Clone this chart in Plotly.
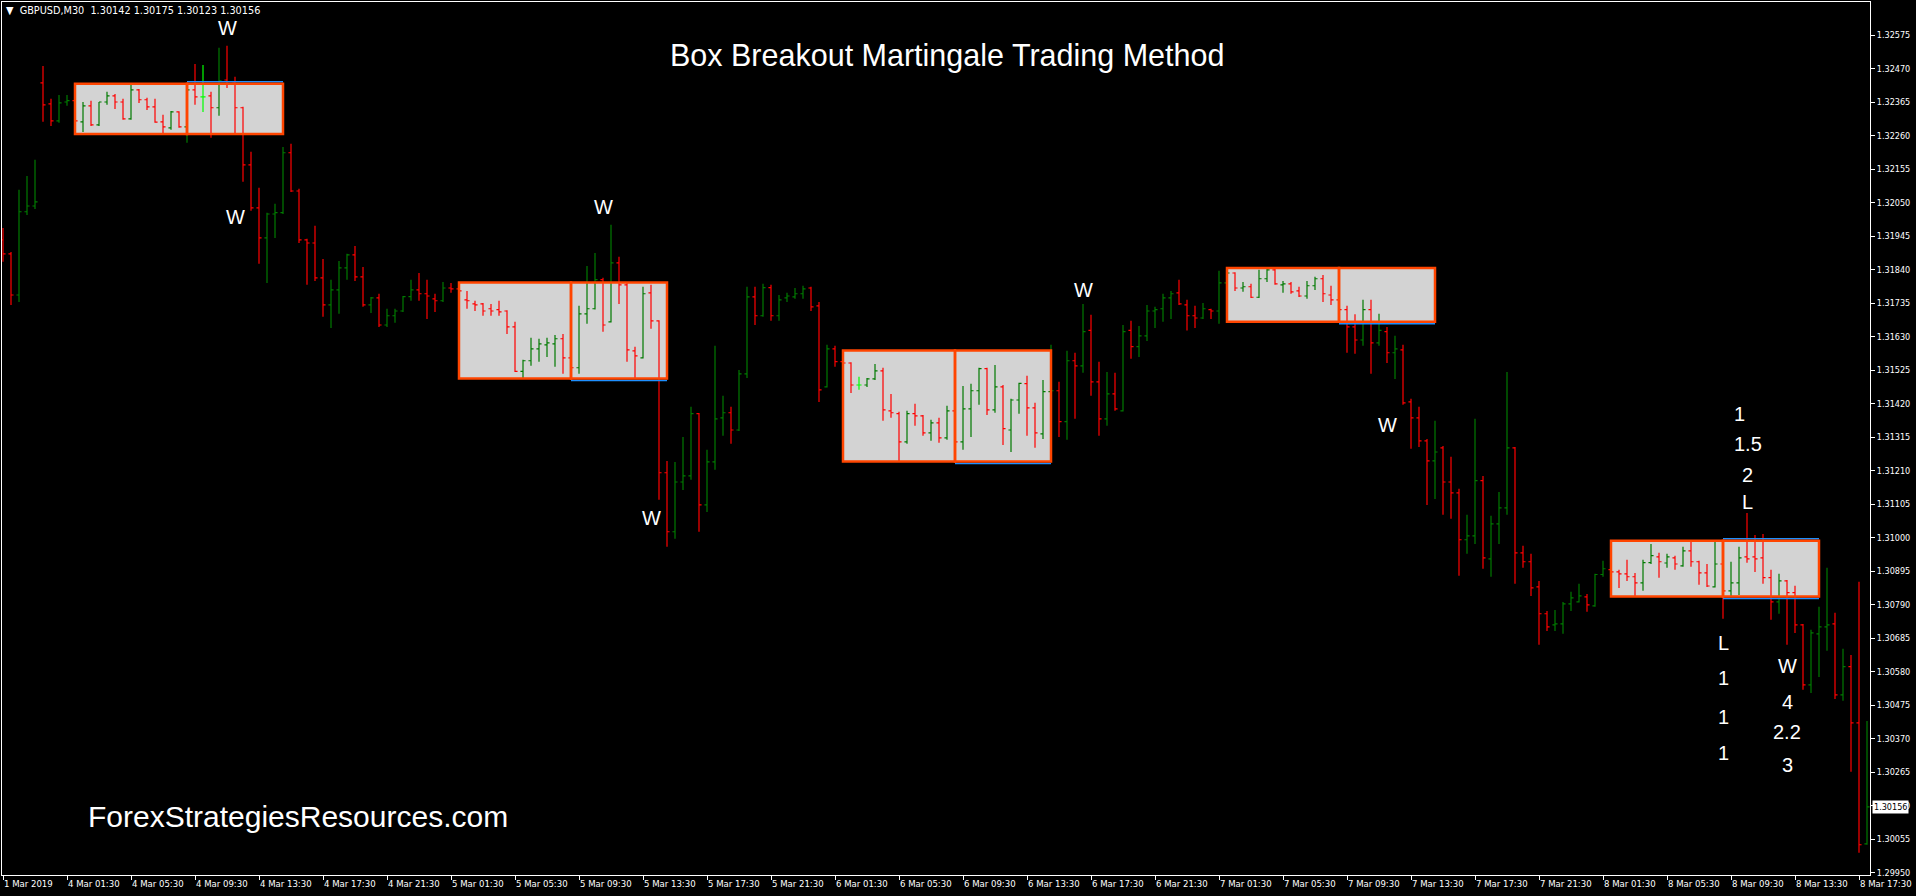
import plotly.graph_objects as go

# ---------------- data (GBPUSD M30) ----------------
bar_index = list(range(234))

opens = [1.31933,1.31889,1.31760,1.32021,1.32039,1.32425,1.32359,1.32306,1.32365,1.32369,
1.32303,1.32353,1.32293,1.32365,1.32384,1.32365,1.32312,1.32403,1.32372,1.32350,
1.32303,1.32284,1.32334,1.32287,1.32403,1.32381,1.32384,1.32347,1.32434,1.32428,
1.32347,1.32168,1.32033,1.31939,1.32014,1.32018,1.32206,1.32086,1.31933,1.31923,
1.31814,1.31729,1.31776,1.31845,1.31886,1.31817,1.31729,1.31751,1.31666,1.31695,
1.31710,1.31755,1.31776,1.31764,1.31748,1.31742,1.31782,1.31779,1.31745,1.31732,
1.31732,1.31717,1.31714,1.31710,1.31660,1.31521,1.31554,1.31591,1.31604,1.31607,
1.31623,1.31563,1.31532,1.31701,1.31717,1.31808,1.31676,1.31861,1.31792,1.31585,
1.31563,1.31767,1.31679,1.31203,1.31018,1.31174,1.31193,1.31388,1.31102,1.31237,
1.31375,1.31391,1.31337,1.31513,1.31754,1.31695,1.31783,1.31695,1.31751,1.31754,
1.31764,1.31782,1.31726,1.31472,1.31591,1.31551,1.31547,1.31478,1.31478,1.31497,
1.31522,1.31397,1.31388,1.31300,1.31388,1.31381,1.31328,1.31359,1.31312,1.31397,
1.31300,1.31403,1.31460,1.31529,1.31400,1.31472,1.31337,1.31431,1.31482,1.31406,
1.31325,1.31457,1.31460,1.31363,1.31554,1.31538,1.31649,1.31488,1.31372,1.31450,
1.31397,1.31649,1.31598,1.31632,1.31710,1.31717,1.31751,1.31767,1.31729,1.31695,
1.31688,1.31714,1.31710,1.31798,1.31829,1.31782,1.31786,1.31753,1.31811,1.31839,
1.31792,1.31795,1.31773,1.31757,1.31789,1.31811,1.31760,1.31745,1.31714,1.31660,
1.31619,1.31714,1.31610,1.31645,1.31579,1.31588,1.31425,1.31375,1.31303,1.31240,
1.31281,1.31174,1.31140,1.30993,1.31005,1.31178,1.30933,1.31043,1.31093,1.31281,
1.30952,1.30924,1.30845,1.30761,1.30726,1.30729,1.30792,1.30798,1.30814,1.30786,
1.30884,1.30899,1.30892,1.30886,1.30877,1.30858,1.30921,1.30939,1.30920,1.30936,
1.30911,1.30958,1.30924,1.30889,1.30845,1.30917,1.30833,1.30858,1.30939,1.30939,
1.30936,1.30874,1.30798,1.30864,1.30827,1.30726,1.30538,1.30698,1.30720,1.30729,
1.30507,1.30595,1.30419,1.30040]

highs = [1.31970,1.31895,1.32090,1.32133,1.32184,1.32478,1.32375,1.32387,1.32387,1.32372,
1.32365,1.32369,1.32365,1.32397,1.32390,1.32375,1.32419,1.32406,1.32378,1.32375,
1.32325,1.32337,1.32336,1.32409,1.32484,1.32481,1.32397,1.32535,1.32541,1.32444,
1.32350,1.32209,1.32096,1.32018,1.32046,1.32224,1.32234,1.32093,1.31936,1.31977,
1.31873,1.31808,1.31867,1.31889,1.31914,1.31848,1.31754,1.31764,1.31717,1.31717,
1.31757,1.31808,1.31829,1.31808,1.31764,1.31801,1.31798,1.31786,1.31773,1.31742,
1.31735,1.31732,1.31742,1.31712,1.31676,1.31557,1.31626,1.31623,1.31626,1.31635,
1.31638,1.31576,1.31726,1.31851,1.31892,1.31814,1.31980,1.31880,1.31798,1.31598,
1.31786,1.31792,1.31681,1.31240,1.31237,1.31315,1.31410,1.31390,1.31275,1.31601,
1.31444,1.31410,1.31525,1.31786,1.31786,1.31795,1.31792,1.31760,1.31767,1.31782,
1.31789,1.31786,1.31738,1.31604,1.31601,1.31557,1.31549,1.31504,1.31500,1.31544,
1.31532,1.31450,1.31394,1.31397,1.31419,1.31384,1.31369,1.31375,1.31413,1.31400,
1.31475,1.31482,1.31532,1.31532,1.31541,1.31478,1.31435,1.31485,1.31507,1.31422,
1.31494,1.31604,1.31488,1.31585,1.31579,1.31732,1.31698,1.31551,1.31519,1.31516,
1.31666,1.31679,1.31663,1.31729,1.31723,1.31764,1.31773,1.31808,1.31745,1.31726,
1.31735,1.31717,1.31836,1.31839,1.31831,1.31801,1.31795,1.31839,1.31842,1.31842,
1.31804,1.31801,1.31786,1.31804,1.31817,1.31823,1.31789,1.31760,1.31726,1.31700,
1.31745,1.31745,1.31701,1.31660,1.31632,1.31604,1.31435,1.31410,1.31309,1.31366,
1.31287,1.31253,1.31153,1.31071,1.31372,1.31193,1.31068,1.31143,1.31519,1.31284,
1.30974,1.30949,1.30864,1.30770,1.30773,1.30798,1.30830,1.30855,1.30823,1.30886,
1.30927,1.30911,1.30899,1.30930,1.30889,1.30930,1.30980,1.30952,1.30949,1.30943,
1.30971,1.30986,1.30927,1.30917,1.30986,1.30927,1.30924,1.30971,1.31077,1.31008,
1.31011,1.30899,1.30886,1.30867,1.30849,1.30729,1.30711,1.30783,1.30905,1.30764,
1.30651,1.30632,1.30861,1.30425]

lows = [1.31864,1.31729,1.31738,1.32011,1.32030,1.32303,1.32290,1.32300,1.32353,1.32303,
1.32271,1.32290,1.32290,1.32356,1.32343,1.32309,1.32309,1.32362,1.32340,1.32300,
1.32268,1.32278,1.32284,1.32237,1.32356,1.32334,1.32253,1.32322,1.32409,1.32268,
1.32115,1.32024,1.31858,1.31798,1.31939,1.32014,1.32083,1.31923,1.31792,1.31804,
1.31692,1.31657,1.31701,1.31808,1.31804,1.31723,1.31704,1.31660,1.31660,1.31673,
1.31707,1.31742,1.31742,1.31685,1.31707,1.31738,1.31767,1.31767,1.31717,1.31710,
1.31695,1.31695,1.31695,1.31638,1.31519,1.31500,1.31538,1.31551,1.31566,1.31535,
1.31513,1.31529,1.31513,1.31670,1.31715,1.31645,1.31674,1.31732,1.31551,1.31500,
1.31561,1.31654,1.31118,1.30971,1.30996,1.31149,1.31181,1.31018,1.31080,1.31212,
1.31319,1.31294,1.31334,1.31500,1.31666,1.31692,1.31679,1.31679,1.31738,1.31748,
1.31748,1.31710,1.31425,1.31470,1.31535,1.31544,1.31453,1.31463,1.31472,1.31494,
1.31366,1.31375,1.31237,1.31294,1.31350,1.31319,1.31303,1.31297,1.31306,1.31290,
1.31275,1.31315,1.31416,1.31384,1.31391,1.31290,1.31268,1.31388,1.31319,1.31281,
1.31309,1.31447,1.31315,1.31306,1.31372,1.31516,1.31444,1.31319,1.31350,1.31397,
1.31395,1.31560,1.31566,1.31616,1.31657,1.31676,1.31685,1.31729,1.31649,1.31657,
1.31685,1.31685,1.31670,1.31792,1.31773,1.31770,1.31751,1.31751,1.31801,1.31792,
1.31767,1.31764,1.31754,1.31748,1.31776,1.31738,1.31729,1.31688,1.31579,1.31576,
1.31601,1.31513,1.31601,1.31547,1.31497,1.31416,1.31278,1.31284,1.31102,1.31121,
1.31071,1.31059,1.30880,1.30949,1.30980,1.30902,1.30877,1.30980,1.31071,1.30855,
1.30905,1.30817,1.30664,1.30707,1.30707,1.30698,1.30770,1.30796,1.30767,1.30783,
1.30877,1.30874,1.30842,1.30864,1.30817,1.30833,1.30917,1.30874,1.30905,1.30899,
1.30908,1.30908,1.30852,1.30845,1.30843,1.30745,1.30817,1.30820,1.30921,1.30892,
1.30855,1.30742,1.30761,1.30664,1.30701,1.30523,1.30513,1.30563,1.30645,1.30494,
1.30488,1.30266,1.30012,1.30037]

closes = [1.31889,1.31760,1.32021,1.32039,1.32052,1.32356,1.32306,1.32362,1.32369,1.32306,
1.32353,1.32293,1.32365,1.32384,1.32365,1.32312,1.32403,1.32372,1.32350,1.32302,
1.32287,1.32334,1.32287,1.32403,1.32381,1.32381,1.32347,1.32431,1.32422,1.32347,
1.32168,1.32033,1.31939,1.32014,1.32018,1.32206,1.32086,1.31933,1.31923,1.31814,
1.31729,1.31776,1.31845,1.31886,1.31817,1.31729,1.31751,1.31666,1.31695,1.31710,
1.31755,1.31776,1.31764,1.31757,1.31742,1.31782,1.31779,1.31773,1.31742,1.31729,
1.31710,1.31710,1.31707,1.31660,1.31521,1.31554,1.31591,1.31607,1.31610,1.31623,
1.31563,1.31532,1.31701,1.31717,1.31808,1.31666,1.31861,1.31792,1.31588,1.31569,
1.31764,1.31679,1.31203,1.31018,1.31174,1.31193,1.31388,1.31102,1.31237,1.31372,
1.31391,1.31337,1.31513,1.31754,1.31695,1.31783,1.31695,1.31745,1.31757,1.31764,
1.31779,1.31723,1.31463,1.31591,1.31551,1.31547,1.31478,1.31478,1.31497,1.31522,
1.31400,1.31391,1.31300,1.31388,1.31381,1.31328,1.31359,1.31312,1.31397,1.31300,
1.31403,1.31460,1.31529,1.31400,1.31472,1.31341,1.31431,1.31483,1.31406,1.31328,
1.31457,1.31460,1.31363,1.31554,1.31538,1.31645,1.31488,1.31372,1.31450,1.31403,
1.31645,1.31598,1.31632,1.31710,1.31714,1.31751,1.31764,1.31732,1.31695,1.31688,
1.31717,1.31710,1.31798,1.31829,1.31782,1.31786,1.31753,1.31811,1.31839,1.31795,
1.31795,1.31770,1.31757,1.31789,1.31811,1.31764,1.31745,1.31714,1.31660,1.31619,
1.31714,1.31610,1.31649,1.31579,1.31591,1.31422,1.31375,1.31303,1.31240,1.31268,
1.31174,1.31140,1.30993,1.31005,1.31178,1.30936,1.31043,1.31093,1.31281,1.30952,
1.30924,1.30842,1.30761,1.30720,1.30729,1.30792,1.30811,1.30817,1.30789,1.30884,
1.30902,1.30892,1.30886,1.30877,1.30858,1.30921,1.30943,1.30924,1.30939,1.30917,
1.30958,1.30924,1.30889,1.30848,1.30917,1.30833,1.30858,1.30936,1.30933,1.30933,
1.30874,1.30798,1.30864,1.30827,1.30726,1.30538,1.30701,1.30720,1.30726,1.30507,
1.30595,1.30419,1.30037,1.30156]

time_tick_index = [0, 8, 16, 24, 32, 40, 48, 56, 64, 72, 80, 88, 96, 104, 112, 120,
                   128, 136, 144, 152, 160, 168, 176, 184, 192, 200, 208, 216, 224, 232]
time_labels = ["1 Mar 2019",
    "4 Mar 01:30", "4 Mar 05:30", "4 Mar 09:30", "4 Mar 13:30", "4 Mar 17:30", "4 Mar 21:30",
    "5 Mar 01:30", "5 Mar 05:30", "5 Mar 09:30", "5 Mar 13:30", "5 Mar 17:30", "5 Mar 21:30",
    "6 Mar 01:30", "6 Mar 05:30", "6 Mar 09:30", "6 Mar 13:30", "6 Mar 17:30", "6 Mar 21:30",
    "7 Mar 01:30", "7 Mar 05:30", "7 Mar 09:30", "7 Mar 13:30", "7 Mar 17:30", "7 Mar 21:30",
    "8 Mar 01:30", "8 Mar 05:30", "8 Mar 09:30", "8 Mar 13:30", "8 Mar 17:30"]

price_ticks = ["1.29950", "1.30055", "1.30160", "1.30265", "1.30370", "1.30475", "1.30580",
               "1.30685", "1.30790", "1.30895", "1.31000", "1.31105", "1.31210", "1.31315",
               "1.31420", "1.31525", "1.31630", "1.31735", "1.31840", "1.31945", "1.32050",
               "1.32155", "1.32260", "1.32365", "1.32470", "1.32575"]

# breakout boxes: range start bar, split bar, end bar, high, low
box_start = [9, 57, 105, 153, 201]
box_split = [23, 71, 119, 167, 215]
box_end = [35, 83, 131, 179, 227]
box_high = [1.32422, 1.31799, 1.31586, 1.31845, 1.30990]
box_low = [1.32265, 1.31498, 1.31238, 1.31676, 1.30815]
box_blue_edges = [["top"], ["bottom"], ["bottom"], ["bottom"], ["top", "bottom"]]

# chart labels (text, bar, price)
label_text = ["W", "W", "W", "W", "W", "W", "1", "1.5", "2", "L", "L", "1", "1", "1", "W", "4", "2.2", "3"]
label_bar = [28.1, 29.0, 75.0, 81.1, 135.0, 173.0, 217.0, 218.1, 218.0, 218.1, 215.1, 215.0, 215.0, 215.0, 223.0, 223.0, 223.0, 223.0]
label_price = [1.32597, 1.32004, 1.32035, 1.31061, 1.31776, 1.31353, 1.31387, 1.31293, 1.31196, 1.31111,
               1.30669, 1.30559, 1.30436, 1.30324, 1.30598, 1.30483, 1.30389, 1.30288]

last_price = 1.30156
header_text = "GBPUSD,M30  1.30142 1.30175 1.30123 1.30156"

# ---------------- figure ----------------
W, H = 1916, 896
PL, PR, PT, PB = 2, 1870, 2, 875
UP, DOWN, DOJI = "#007a00", "#ff0000", "#00ff00"
AXFONT = "DejaVu Sans Condensed, Liberation Sans Narrow, Arial Narrow, sans-serif"
TXTFONT = "Liberation Sans, Arial, sans-serif"

doji = [i for i in bar_index if opens[i] == closes[i]]
normal = [i for i in bar_index if opens[i] != closes[i]]

fig = go.Figure()
fig.add_trace(go.Ohlc(
    x=[bar_index[i] for i in normal],
    open=[opens[i] for i in normal], high=[highs[i] for i in normal],
    low=[lows[i] for i in normal], close=[closes[i] for i in normal],
    increasing=dict(line=dict(color=UP, width=1.2)),
    decreasing=dict(line=dict(color=DOWN, width=1.2)),
    tickwidth=0.32, hoverinfo="skip", showlegend=False))
fig.add_trace(go.Ohlc(
    x=[bar_index[i] for i in doji],
    open=[opens[i] for i in doji], high=[highs[i] for i in doji],
    low=[lows[i] for i in doji], close=[closes[i] for i in doji],
    increasing=dict(line=dict(color=DOJI, width=1.2)),
    decreasing=dict(line=dict(color=DOJI, width=1.2)),
    tickwidth=0.32, hoverinfo="skip", showlegend=False))

shapes = []
for s, m, e, hi, lo, edges in zip(box_start, box_split, box_end, box_high, box_low, box_blue_edges):
    for a, b in ((s, m), (m, e)):
        shapes.append(dict(type="rect", xref="x", yref="y", x0=a, x1=b, y0=lo, y1=hi,
                           fillcolor="#d3d3d3", line=dict(width=0), layer="below"))
    for edge in edges:
        anchor = hi if edge == "top" else lo
        off = 2 if edge == "top" else -2
        shapes.append(dict(type="line", xref="x", yref="y", x0=m, x1=e,
                           ysizemode="pixel", yanchor=anchor, y0=off, y1=off,
                           line=dict(color="#1e90ff", width=1.5), layer="above"))
    for a, b in ((s, m), (m, e)):
        shapes.append(dict(type="rect", xref="x", yref="y", x0=a, x1=b, y0=lo, y1=hi,
                           fillcolor="rgba(0,0,0,0)", line=dict(color="#ff4500", width=2.5),
                           layer="above"))


def px(xp):
    return (xp - PL) / (PR - PL)


def py(yp):
    return 1 - (yp - PT) / (PB - PT)


annotations = []
for t, b, p in zip(label_text, label_bar, label_price):
    annotations.append(dict(text=t, x=b, y=p, xref="x", yref="y", showarrow=False,
                            font=dict(family=TXTFONT, size=20, color="white"),
                            xanchor="center", yanchor="middle"))
annotations.append(dict(text="Box Breakout Martingale Trading Method", x=px(947), y=py(55),
                        xref="paper", yref="paper", showarrow=False, xanchor="center", yanchor="middle",
                        font=dict(family=TXTFONT, size=30.5, color="white")))
annotations.append(dict(text="ForexStrategiesResources.com", x=px(298), y=py(816),
                        xref="paper", yref="paper", showarrow=False, xanchor="center", yanchor="middle",
                        font=dict(family=TXTFONT, size=30, color="white")))
annotations.append(dict(text="\u25bc  " + header_text, x=px(4), y=py(11),
                        xref="paper", yref="paper", showarrow=False, xanchor="left", yanchor="middle",
                        font=dict(family=AXFONT, size=10.8, color="white")))
annotations.append(dict(text=f"{last_price:.5f}", x=1, y=last_price, xref="paper", yref="y",
                        xshift=2, showarrow=False, xanchor="left", yanchor="middle",
                        bgcolor="white", borderpad=1,
                        font=dict(family=AXFONT, size=9, color="black")))

y_top = 1.32575 + (35 - PT) * 0.00105 / 33.5
y_bot = 1.32575 - (PB - 35) * 0.00105 / 33.5

fig.update_layout(
    width=W, height=H,
    margin=dict(l=PL, r=W - PR, t=PT, b=H - PB, pad=0),
    paper_bgcolor="black", plot_bgcolor="black",
    showlegend=False,
    shapes=shapes, annotations=annotations,
    xaxis=dict(range=[-0.125, 233.375], rangeslider=dict(visible=False),
               tickmode="array", tickvals=time_tick_index, ticktext=time_labels,
               ticks="outside", ticklen=4, tickcolor="white", tickwidth=1,
               ticklabelposition="outside right", tickangle=0,
               tickfont=dict(family=AXFONT, size=9.5, color="white"),
               showgrid=False, zeroline=False, showline=True, linecolor="white",
               linewidth=1, mirror=True, fixedrange=True),
    yaxis=dict(side="right", range=[y_bot, y_top],
               tickmode="array", tickvals=[float(v) for v in price_ticks], ticktext=price_ticks,
               ticks="outside", ticklen=4, tickcolor="white", tickwidth=1,
               tickfont=dict(family=AXFONT, size=9, color="white"),
               showgrid=False, zeroline=False, showline=True, linecolor="white",
               linewidth=1, mirror=True, fixedrange=True),
)

fig.write_html("out.html", config={"displayModeBar": False},
               post_script="document.body.style.margin='0';document.body.style.overflow='hidden';")
